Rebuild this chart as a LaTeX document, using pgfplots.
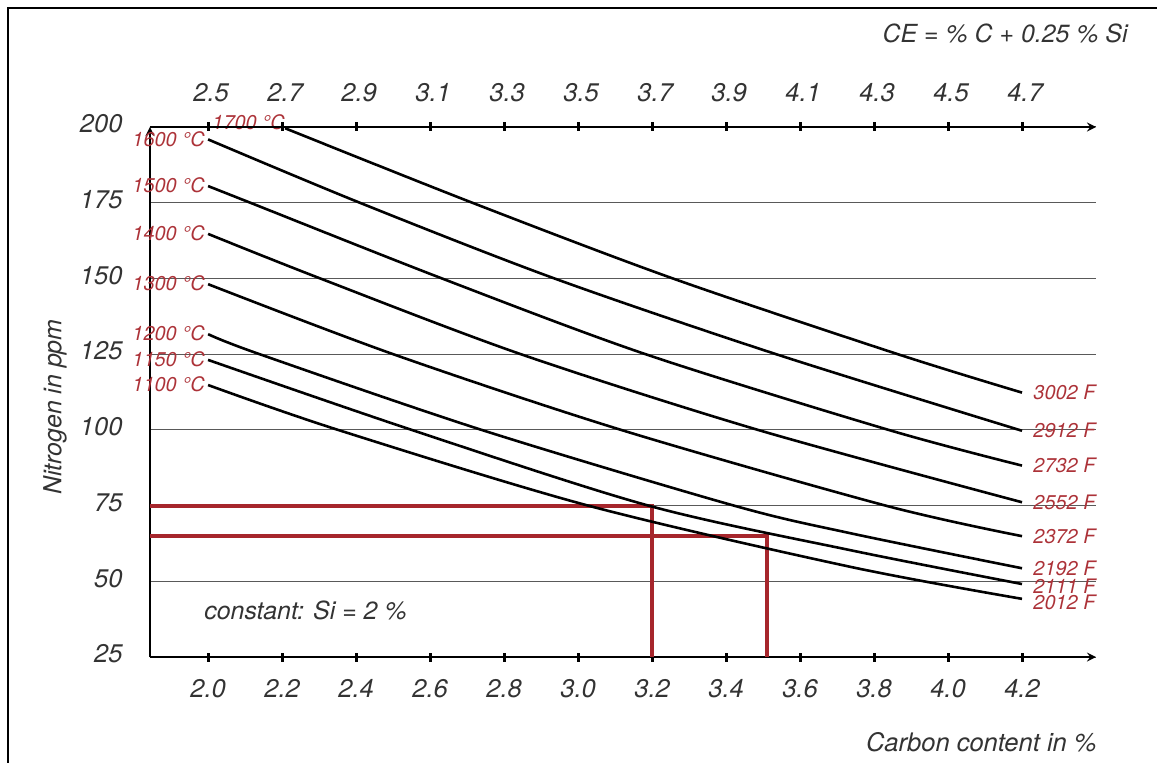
\documentclass[border=0pt]{standalone}
\usepackage{fontspec}
\setmainfont{TeX Gyre Heros}
\usepackage{pgfplots}
\pgfplotsset{compat=1.18}
\usetikzlibrary{arrows.meta}
\definecolor{dred}{RGB}{166,38,44}
\definecolor{lred}{RGB}{172,50,56}
\tikzset{lbl/.style={text=lred, font=\fontsize{10}{11}\selectfont\itshape, inner sep=0pt}}
\begin{document}
\begin{tikzpicture}[x=1bp,y=1bp]
\useasboundingbox (-75,-52.5) rectangle (503.5,328.5);
\draw[line width=1bp] (-71,-80) -- (-71,324.5) -- (540,324.5);
\pgfplotsset{
  common/.style={
    at={(0,0)}, anchor=south west, scale only axis,
    width=473bp, height=265bp,
    xmin=1.843, xmax=4.40, ymin=25, ymax=200,
    xtick={2,2.2,2.4,2.6,2.8,3,3.2,3.4,3.6,3.8,4,4.2},
    tick align=outside,
    major tick length=4.5bp,
    tick style={black, line width=1.5bp},
    ticklabel style={font=\fontsize{12.8}{14}\selectfont\itshape, text=black!80},
    /pgf/number format/assume math mode=true,
    x axis line style={line width=1bp, -{Latex[length=7bp,width=4.5bp]}},
    y axis line style={line width=1bp, -},
  }
}
\begin{axis}[common, clip=false,
  axis x line=bottom, axis y line=left,
  xticklabels={2.0,2.2,2.4,2.6,2.8,3.0,3.2,3.4,3.6,3.8,4.0,4.2},
  xticklabel style={yshift=-5.5bp},
  ytick={25,50,75,100,125,150,175,200},
  ytick style={draw=none},
  yticklabel style={xshift=-8bp, yshift=1.5bp},
  ymajorgrids, grid style={line width=0.5bp, black!65},
]
% red guide lines
\addplot[dred, line width=2bp, line join=miter] coordinates {(1.843,75) (3.2,75) (3.2,25)};
\addplot[dred, line width=2bp, line join=miter] coordinates {(1.843,65) (3.51,65) (3.51,25)};
% isotherms
\addplot[black, line width=1.3bp, smooth] coordinates {(2.208,199.6) (2.714,175) (3.256,150) (3.864,125) (4.2,112.3)};
\addplot[black, line width=1.3bp, smooth] coordinates {(2.0,195.9) (2.41,175) (2.936,150) (3.535,125) (4.2,99.7)};
\addplot[black, line width=1.3bp, smooth] coordinates {(2.0,180.5) (2.114,175) (2.632,150) (3.182,125) (3.839,100) (4.2,88.2)};
\addplot[black, line width=1.3bp, smooth] coordinates {(2.0,164.7) (2.303,150) (2.845,125) (3.486,100) (4.2,76.1)};
\addplot[black, line width=1.3bp, smooth] coordinates {(2.0,148.1) (2.5,125) (3.116,100) (3.831,75) (4.2,64.9)};
\addplot[black, line width=1.3bp, smooth] coordinates {(2.0,131.6) (2.139,125) (2.739,100) (3.421,75) (3.735,65.9) (4.2,54.3)};
\addplot[black, line width=1.3bp, smooth] coordinates {(2.0,123.1) (2.55,100) (3.19,75) (3.735,60.3) (4.2,49.1)};
\addplot[black, line width=1.3bp, smooth] coordinates {(2.0,114.8) (2.351,100) (3.027,75) (3.735,54.8) (4.2,44.2)};
% left labels
\node[lbl, anchor=east] at (axis cs:2.208,199.6) [yshift=3bp] {1700 °C};
\node[lbl, anchor=east] at (axis cs:2.0,195.9) [xshift=-1.5bp] {1600 °C};
\node[lbl, anchor=east] at (axis cs:2.0,180.5) [xshift=-1.5bp, yshift=0.5bp] {1500 °C};
\node[lbl, anchor=east] at (axis cs:2.0,164.7) [xshift=-1.5bp, yshift=0.5bp] {1400 °C};
\node[lbl, anchor=east] at (axis cs:2.0,148.1) [xshift=-1.5bp, yshift=0.5bp] {1300 °C};
\node[lbl, anchor=east] at (axis cs:2.0,131.6) [xshift=-1.5bp, yshift=0.5bp] {1200 °C};
\node[lbl, anchor=east] at (axis cs:2.0,123.1) [xshift=-1.5bp, yshift=0.5bp] {1150 °C};
\node[lbl, anchor=east] at (axis cs:2.0,114.8) [xshift=-1.5bp, yshift=0.5bp] {1100 °C};
% right labels
\node[lbl, anchor=west] at (axis cs:4.2,112.3) [xshift=5.5bp] {3002 F};
\node[lbl, anchor=west] at (axis cs:4.2,99.7) [xshift=5.5bp] {2912 F};
\node[lbl, anchor=west] at (axis cs:4.2,88.2) [xshift=5.5bp] {2732 F};
\node[lbl, anchor=west] at (axis cs:4.2,76.1) [xshift=5.5bp] {2552 F};
\node[lbl, anchor=west] at (axis cs:4.2,64.9) [xshift=5.5bp] {2372 F};
\node[lbl, anchor=west] at (axis cs:4.2,54.3) [xshift=5.5bp, yshift=0bp] {2192 F};
\node[lbl, anchor=west] at (axis cs:4.2,49.1) [xshift=5.5bp, yshift=-1bp] {2111 F};
\node[lbl, anchor=west] at (axis cs:4.2,44.2) [xshift=5.5bp, yshift=-2bp] {2012 F};
\end{axis}
\begin{axis}[common,
  axis x line=top, axis y line=none,
  xticklabels={2.5,2.7,2.9,3.1,3.3,3.5,3.7,3.9,4.1,4.3,4.5,4.7},
  xticklabel style={yshift=7bp, xshift=1.5bp},
]
\end{axis}
\node[anchor=east, inner sep=0pt, text=black!80, font=\fontsize{12.8}{14}\selectfont\itshape] at (473.5,-42.5) {Carbon content in \%};
\node[anchor=east, inner sep=0pt, text=black!80, font=\fontsize{12.5}{14}\selectfont\itshape] at (489,312) {CE = \% C + 0.25 \% Si};
\node[rotate=90, inner sep=0pt, text=black!80, font=\fontsize{12.5}{14}\selectfont\itshape] at (-47.5,125) {Nitrogen in ppm};
\node[anchor=west, inner sep=0pt, text=black!80, font=\fontsize{12.5}{14}\selectfont\itshape] at (27,23.5) {constant: Si = 2 \%};
\end{tikzpicture}
\end{document}
